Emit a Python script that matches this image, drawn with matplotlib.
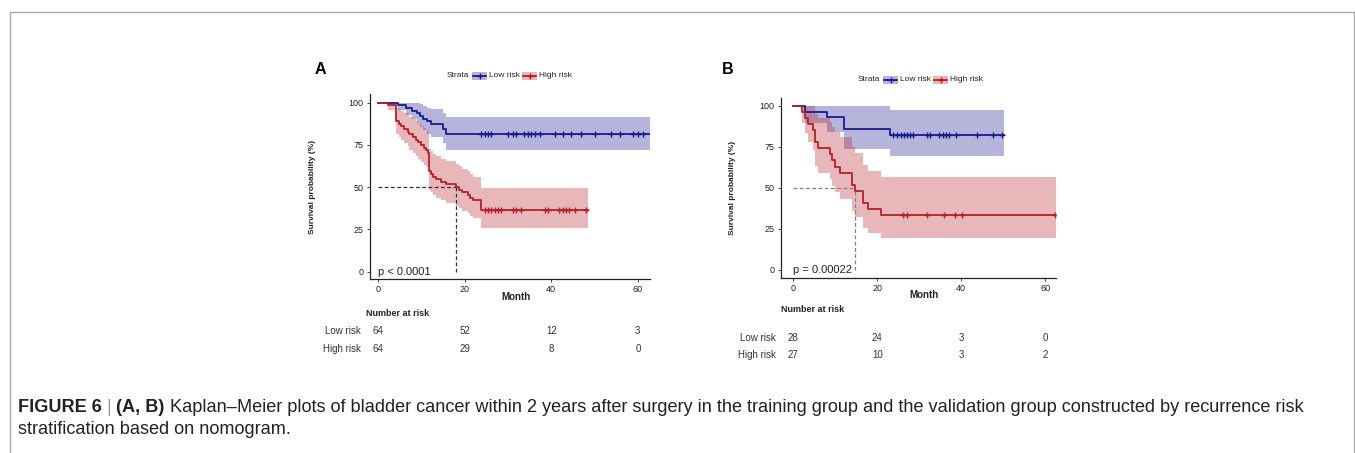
import matplotlib
matplotlib.use("Agg")
import matplotlib.pyplot as plt
from matplotlib import font_manager
from matplotlib.lines import Line2D
from matplotlib.patches import Rectangle
from matplotlib.transforms import blended_transform_factory

# ---------------- data ----------------
risk_times = [0, 20, 40, 60]
strata = ["Low risk", "High risk"]

# Panel A (training group)
A_low_t = [0, 4.5, 6.5, 7.8, 8.9, 9.7, 10.5, 11.2, 12.2, 15.0, 15.8, 62.7]
A_low_s = [100, 98.4, 96.9, 95.3, 93.8, 92.2, 90.6, 89.1, 87.5, 84.4, 81.25, 81.25]
A_low_lo = [100, 95.4, 92.7, 90.3, 88.0, 85.8, 83.8, 81.7, 79.8, 75.9, 72.2, 72.2]
A_low_hi = [100, 100, 100, 100, 99.9, 99.0, 98.1, 97.0, 96.0, 93.7, 91.4, 91.4]
A_low_cens = [23.8, 24.6, 25.4, 26.2, 30.0, 31.2, 31.9, 33.8, 34.6, 35.4, 36.2, 37.3,
              40.8, 42.7, 44.6, 46.9, 50.0, 53.8, 55.8, 58.8, 60.0, 61.2]

A_high_t = [0, 2.2, 4.15, 4.8, 5.3, 6.1, 6.9, 7.2, 8.0, 8.8, 9.2, 9.9, 10.7, 11.1, 11.5,
            11.8, 12.2, 12.6, 13.4, 14.5, 15.7, 18.0, 18.8, 19.5, 20.7, 21.2, 21.9, 23.8, 48.5]
A_high_s = [100, 98.4, 89.1, 87.5, 85.9, 84.4, 82.8, 81.25, 79.7, 78.1, 76.6, 75.0, 73.4, 71.9, 70.3,
            59.4, 57.8, 56.25, 54.7, 53.1, 51.6, 50.0, 48.4, 46.9, 45.3, 43.8, 42.2, 36.5, 36.5]
A_high_lo = [100, 95.4, 81.7, 79.8, 77.8, 75.9, 74.1, 72.2, 70.4, 68.6, 66.9, 65.1, 63.4, 61.7, 60.0,
             48.5, 46.9, 45.3, 43.7, 42.2, 40.7, 39.1, 37.6, 36.1, 34.6, 33.1, 31.7, 25.9, 25.9]
A_high_hi = [100, 100, 97.1, 96.0, 94.9, 93.7, 92.6, 91.4, 90.2, 88.9, 87.7, 86.4, 85.1, 83.8, 82.4,
             72.7, 71.3, 69.8, 68.3, 66.9, 65.4, 63.9, 62.4, 60.8, 59.3, 57.8, 56.2, 49.8, 49.8]
A_high_cens = [24.6, 25.4, 26.2, 26.9, 27.7, 28.5, 31.2, 31.9, 33.1, 38.5, 39.2,
               41.9, 42.7, 43.5, 44.2, 45.4, 48.1]
A_median = 18.0
A_pval = "p < 0.0001"
A_risk_low = [64, 52, 12, 3]
A_risk_high = [64, 29, 8, 0]

# Panel B (validation group)
B_low_t = [0, 2.9, 8.0, 12.0, 23.0, 50.2]
B_low_s = [100, 96.4, 92.9, 85.7, 82.1, 82.1]
B_low_lo = [100, 89.7, 83.8, 73.7, 69.1, 69.1]
B_low_hi = [100, 100, 100, 99.7, 97.6, 97.6]
B_low_cens = [23.7, 24.6, 25.6, 26.4, 27.0, 27.7, 28.6, 31.8, 32.6, 34.8, 35.6, 36.3,
              37.1, 38.8, 43.7, 47.7, 49.7]

B_high_t = [0, 2.0, 2.8, 3.6, 4.8, 5.2, 6.0, 8.8, 9.3, 9.9, 11.1, 13.9, 14.8, 16.7, 17.9, 20.9, 62.6]
B_high_s = [100, 96.3, 92.6, 88.9, 85.2, 77.8, 74.1, 70.4, 66.7, 63.0, 59.3, 51.9, 48.1, 40.7, 37.0, 33.3, 33.3]
B_high_lo = [100, 89.4, 83.2, 77.8, 72.8, 63.6, 59.3, 55.1, 51.1, 47.2, 43.3, 36.0, 32.5, 25.8, 22.6, 19.6, 19.6]
B_high_hi = [100, 100, 100, 100, 99.7, 95.1, 92.6, 89.9, 87.0, 84.1, 81.0, 74.6, 71.2, 64.2, 60.5, 56.8, 56.8]
B_high_cens = [26.2, 27.0, 31.8, 35.8, 38.6, 40.3, 62.4]
B_median = 14.8
B_pval = "p = 0.00022"
B_risk_low = [28, 24, 3, 0]
B_risk_high = [27, 10, 3, 2]

caption_bold1 = "FIGURE 6"
caption_bold2 = "(A, B)"
caption_rest1 = ("Kaplan\u2013Meier plots of bladder cancer within 2 years after surgery in the training "
                 "group and the validation group constructed by recurrence risk")
caption_line2 = "stratification based on nomogram."

# ---------------- style ----------------
available = {f.name for f in font_manager.fontManager.ttflist}
PLOT_FONT = "Liberation Sans" if "Liberation Sans" in available else "DejaVu Sans"
CAP_FONT = "Liberation Sans Narrow" if "Liberation Sans Narrow" in available else PLOT_FONT
plt.rcParams["font.family"] = [PLOT_FONT, "DejaVu Sans"]

BLUE = "#1b1b8f"
RED = "#b5202a"
TXT = "#222222"

W, H = 1355, 453
fig = plt.figure(figsize=(W / 100, H / 100), dpi=100)


def fx(x):
    return x / W


def fy(y):
    return 1 - y / H


# border
fig.add_artist(Line2D([fx(9.5), fx(9.5), fx(1353.5), fx(1353.5)],
                      [fy(460), fy(11.5), fy(11.5), fy(460)],
                      transform=fig.transFigure, color="#a8a8a8", lw=1.0))


def panel(box, xlim, ylim, series, median, med_col, pval, risk_low, risk_high,
          letter, letter_xy, legend_y, strata_x, ylab_x, month_y, nar_x, nar_y, row_y, lab_right):
    left, top, right, bottom = box
    ax = fig.add_axes([fx(left), fy(bottom), fx(right) - fx(left), (bottom - top) / H])
    for t, s, lo, hi, cens, col in series:
        ax.fill_between(t, lo, hi, step="post", color=col, lw=0, alpha=0.32, zorder=1)
    for t, s, lo, hi, cens, col in series:
        ax.step(t, s, where="post", color=col, lw=1.3, zorder=3)
        # censor marks on the curve at the level in force at each time
        cy = []
        for c in cens:
            val = s[0]
            for tt, ss in zip(t, s):
                if tt <= c:
                    val = ss
            cy.append(val)
        ax.plot(cens, cy, ls="none", marker="+", ms=5, mew=1.0, color=col, zorder=4)
    ax.plot([0, median], [50, 50], ls=(0, (3, 2)), color=med_col, lw=0.9, zorder=2)
    ax.plot([median, median], [0, 50], ls=(0, (3, 2)), color=med_col, lw=0.9, zorder=2)
    ax.set_xlim(*xlim)
    ax.set_ylim(*ylim)
    ax.set_xticks(risk_times)
    ax.set_yticks([0, 25, 50, 75, 100])
    for sp in ["top", "right"]:
        ax.spines[sp].set_visible(False)
    for sp in ["left", "bottom"]:
        ax.spines[sp].set_color("#222222")
        ax.spines[sp].set_linewidth(0.9)
    ax.tick_params(labelsize=6.5, colors="#444444", labelcolor=TXT, length=2.5, width=0.7, pad=2)
    ax.text(0, 0, pval, fontsize=8, color=TXT, ha="left", va="center")
    # labels
    fig.text(fx(ylab_x), (fy(top) + fy(bottom)) / 2, "Survival probability (%)", rotation=90,
             fontsize=6, fontweight="bold", color=TXT, ha="center", va="center")
    xt = blended_transform_factory(ax.transData, fig.transFigure)
    fig.text(fx((left + right) / 2 + 6), fy(month_y), "Month", fontsize=7, fontweight="bold",
             color=TXT, ha="center", va="center")
    fig.text(fx(letter_xy[0]), fy(letter_xy[1]), letter, fontsize=11.5, fontweight="bold",
             color="black", ha="left", va="center")
    # risk table
    fig.text(fx(nar_x), fy(nar_y), "Number at risk", fontsize=6.5, fontweight="bold",
             color=TXT, ha="left", va="center")
    for lab, vals, ry in zip(strata, [risk_low, risk_high], row_y):
        fig.text(fx(lab_right), fy(ry), lab, fontsize=7, color="#333333", ha="right", va="center")
        for tt, v in zip(risk_times, vals):
            ax.text(tt, fy(ry), str(v), transform=xt, fontsize=7, color="#333333",
                    ha="center", va="center")
    # legend
    fig.text(fx(strata_x), fy(legend_y), "Strata", fontsize=6, color=TXT, ha="left", va="center")
    x = strata_x + 25
    for lab, col in zip(strata, [BLUE, RED]):
        fig.add_artist(Rectangle((fx(x), fy(legend_y + 4)), fx(15), 8 / H, transform=fig.transFigure,
                                 facecolor=col, alpha=0.32, edgecolor="none"))
        fig.add_artist(Line2D([fx(x + 1), fx(x + 14)], [fy(legend_y), fy(legend_y)],
                              transform=fig.transFigure, color=col, lw=1.3))
        fig.add_artist(Line2D([fx(x + 7.5)], [fy(legend_y)], transform=fig.transFigure, color=col,
                              marker="+", ms=4, mew=1.0, ls="none"))
        fig.text(fx(x + 17), fy(legend_y), lab, fontsize=6, color=TXT, ha="left", va="center")
        x += 50
    return ax


panel((370, 94, 650, 279), (-1.85, 62.8), (-4.3, 105.1),
      [(A_low_t, A_low_s, A_low_lo, A_low_hi, A_low_cens, BLUE),
       (A_high_t, A_high_s, A_high_lo, A_high_hi, A_high_cens, RED)],
      A_median, "#333333", A_pval, A_risk_low, A_risk_high,
      "A", (315, 70), 75.5, 447, 313, 297, 366, 313, (331, 349), 361)

panel((780.7, 97.7, 1056, 277.7), (-3.0, 62.6), (-4.7, 104.9),
      [(B_low_t, B_low_s, B_low_lo, B_low_hi, B_low_cens, BLUE),
       (B_high_t, B_high_s, B_high_lo, B_high_hi, B_high_cens, RED)],
      B_median, "#808080", B_pval, B_risk_low, B_risk_high,
      "B", (722, 69), 79.5, 858, 732, 295, 781, 310, (338, 355), 776)

# ---------------- caption ----------------
renderer = fig.canvas.get_renderer()
cap_size = 13.1
y1, y2 = fy(407), fy(429)
x = 18
pieces = [(caption_bold1, "bold", TXT), (" | ", "normal", "#9a9a9a"),
          (caption_bold2, "bold", TXT), (" " + caption_rest1, "normal", TXT)]
for txt, wt, col in pieces:
    t = fig.text(fx(x), y1, txt, fontsize=cap_size, fontweight=wt, color=col,
                 family=[CAP_FONT, "DejaVu Sans"], ha="left", va="center")
    bb = t.get_window_extent(renderer=renderer)
    x += bb.width
fig.text(fx(18), y2, caption_line2, fontsize=cap_size, color=TXT,
         family=[CAP_FONT, "DejaVu Sans"], ha="left", va="center")

fig.savefig("out.png", dpi=100)
